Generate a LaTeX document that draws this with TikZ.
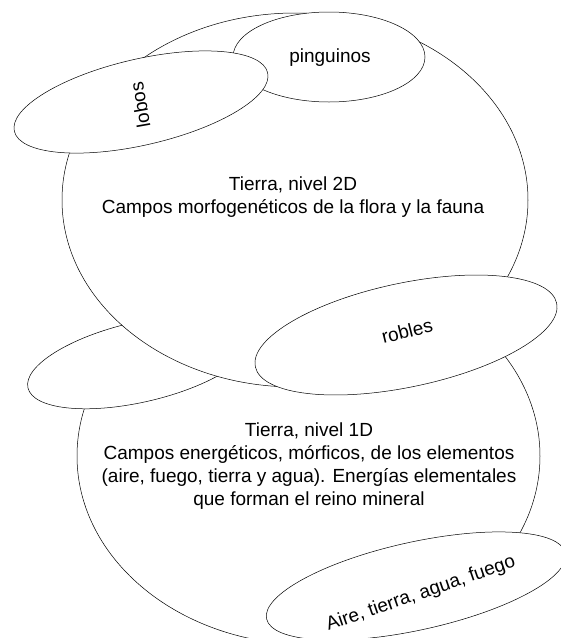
\documentclass[tikz,border=0pt]{standalone}
\usepackage{fontspec}
\setmainfont{Liberation Sans}
\usetikzlibrary{positioning}

\begin{document}
\begin{tikzpicture}[x=1pt, y=-1pt,
    zone/.style={fill=white, draw=black, line width=0.5pt},
    lbl/.style={font=\fontsize{19}{23}\selectfont, align=center, inner sep=0pt}]
    \useasboundingbox (0,0) rectangle (561,638);
    \clip (0,0) rectangle (561,638);

    % Earth, level 1D (lower sphere)
    \filldraw[zone] (308.5,456) ellipse (231.5 and 188.6);

    % Empty field on the left
    \filldraw[zone, rotate around={13:(140,362)}] (140,362) ellipse (115 and 40);

    % Elements field
    \filldraw[zone, rotate around={12.4:(416,586)}] (416,586) ellipse (153 and 44);

    % Earth, level 2D (upper sphere)
    \filldraw[zone] (295,200) ellipse (233 and 187);

    % Species fields
    \filldraw[zone] (329,57) ellipse (96 and 45);
    \filldraw[zone, rotate around={13:(141,102)}] (141,102) ellipse (130 and 43);
    \filldraw[zone, rotate around={11.9:(406,335)}] (406,335) ellipse (154 and 52);

    % Labels
    \node[lbl] (nivel2) at (293,197) {Tierra, nivel 2D\\Campos morfogenéticos de la flora y la fauna};
    \node[lbl] (nivel1) at (309,466) {Tierra, nivel 1D\\Campos energéticos, mórficos, de los elementos\\(aire, fuego, tierra y agua). Energías elementales\\que forman el reino mineral};
    \node[lbl] (pinguinos) at (330,58) {pinguinos};
    \node[lbl, rotate=100] (lobos) at (140,105) {lobos};
    \node[lbl, rotate=14] (robles) at (407,331) {robles};
    \node[lbl, rotate=19] (elementos) at (421,594) {Aire, tierra, agua, fuego};
\end{tikzpicture}
\end{document}
